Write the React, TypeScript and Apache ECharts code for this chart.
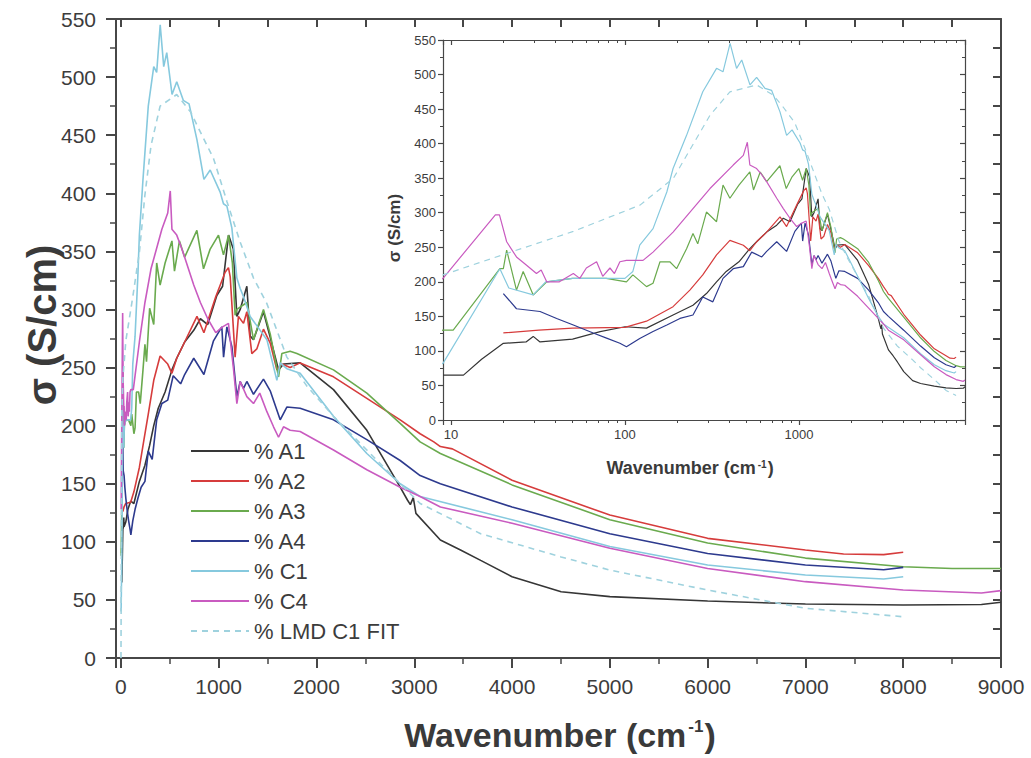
import React, { useEffect, useRef } from 'react';
import * as echarts from 'echarts';

const FONT = '"Liberation Sans", Arial, Helvetica, sans-serif';
const AX = '#474747';
const TXT = '#3c3c3c';

const SERIES_NAMES = ['% A1', '% A2', '% A3', '% A4', '% C1', '% C4', '% LMD C1 FIT'];
const SERIES_COLORS = ['#363636', '#d63c3c', '#6aaa4e', '#2d3a8e', '#86c9de', '#c95bc0', '#9fd2de'];

const MAIN_X_MIN = -50;
const MAIN_X_MAX = 9000;
const Y_MIN = 0;
const Y_MAX = 550;
const Y_STEP = 50;
const INSET_X_MIN = 9;
const INSET_X_MAX = 9000;

// [wavenumber (cm^-1), sigma (S/cm)]
const A1: [number, number][] = [
  [9, 65], [11.8, 65], [15, 88], [20, 111], [27, 113], [29.7, 121], [32.5, 113], [50, 117], [72, 128],
  [100, 135], [133, 133], [189, 152], [246, 166], [294, 183], [336, 200], [382, 215], [452, 229],
  [522, 248], [571, 258], [652, 272], [745, 282], [813, 292], [888, 287], [981, 312], [1040, 320],
  [1101, 364], [1150, 352], [1186, 294], [1220, 300], [1288, 320], [1322, 277], [1356, 274],
  [1458, 298], [1527, 276], [1612, 248], [1663, 253], [1833, 254], [2174, 231], [2515, 196],
  [2856, 147], [2930, 136], [2960, 132], [2990, 138], [3017, 124.5], [3267, 101.5], [3473, 93],
  [3679, 84], [4000, 70], [4502, 57], [5000, 52.8], [6000, 49], [7000, 46.5], [8000, 45.6],
  [8800, 46], [9000, 48],
];

const A2: [number, number][] = [
  [20, 126], [32, 130], [50, 133], [100, 134], [133, 143], [189, 164], [236, 188], [280, 210],
  [336, 239], [401, 260], [479, 253], [522, 245], [571, 258], [652, 272], [778, 294], [849, 280],
  [970, 311], [1066, 332], [1100, 336], [1118, 328], [1168, 259], [1202, 294], [1254, 288],
  [1288, 298], [1339, 262], [1390, 266], [1458, 283], [1527, 271], [1595, 248], [1646, 253],
  [1731, 250], [1833, 254], [2174, 242], [2515, 223.5], [2856, 205], [3060, 193], [3200, 186],
  [3267, 182], [3390, 180], [4000, 153], [5000, 123], [6000, 103], [7000, 93], [7390, 89.5],
  [7800, 89], [8000, 91],
];

const A3: [number, number][] = [
  [2, 88], [9, 130], [10.3, 130], [19.1, 219], [20, 219], [20.9, 246], [23.8, 188], [26, 215],
  [29.7, 181], [35.5, 200], [50, 205], [78, 205], [102, 200], [111, 210], [133, 193], [145, 198],
  [159, 229], [181, 229], [198, 219], [226, 248], [246, 270], [262, 255], [294, 301], [336, 287],
  [366, 340], [401, 321], [452, 340], [522, 359], [548, 333], [599, 359], [652, 345], [777, 368],
  [845, 335], [913, 352], [998, 364], [1049, 347], [1101, 364], [1140, 340], [1168, 295],
  [1186, 300], [1288, 306], [1356, 274], [1458, 300], [1527, 279], [1612, 242], [1646, 262],
  [1731, 264], [1800, 262], [2174, 248], [2515, 228], [2856, 202], [3060, 186], [3267, 176],
  [4000, 149], [5000, 119], [6000, 99], [7000, 86], [8000, 78.6], [8500, 77], [9000, 77],
];

const A4: [number, number][] = [
  [20, 183], [23.8, 161], [32.5, 157], [40.5, 147], [50.5, 137.5], [65.7, 126], [78.4, 118.5],
  [93.5, 111], [102, 106], [121.6, 118], [145, 128], [174, 137.5], [207, 147], [246, 152],
  [280, 178], [320, 171], [366, 205], [419, 219], [479, 222], [535, 243], [611, 236], [652, 244],
  [745, 258], [849, 244], [947, 273], [1032, 285], [1050, 259], [1084, 285], [1135, 268],
  [1186, 225], [1220, 238], [1254, 232], [1288, 238], [1356, 227], [1458, 240], [1527, 230],
  [1629, 205], [1697, 216], [1833, 215], [2174, 205], [2515, 188], [2856, 170], [3060, 157],
  [3267, 150], [4000, 130], [5000, 107], [6000, 90], [7000, 80], [7800, 76], [8000, 78],
];

const C1: [number, number][] = [
  [2, 40], [9, 82], [19.1, 219], [21.5, 191], [29.7, 181], [35, 200], [50, 205], [100, 205],
  [111, 215], [121.6, 253], [145, 277], [174, 330], [189, 364], [226, 412], [280, 475], [336, 509],
  [366, 504], [402, 545], [438, 509], [469, 521], [523, 485], [571, 496], [638, 480], [697, 477],
  [778, 446], [849, 412], [913, 420], [1015, 401], [1049, 391], [1084, 389], [1135, 370],
  [1186, 327], [1220, 318], [1254, 311], [1322, 294], [1493, 274], [1595, 239], [1629, 254],
  [1697, 249], [1833, 245], [2174, 208], [2515, 176], [2856, 150], [3060, 139], [4000, 119],
  [5000, 96], [6000, 80], [7000, 71.4], [7800, 68], [8000, 70],
];

const C4: [number, number][] = [
  [3, 128], [9, 205], [18, 297], [19, 297], [20.9, 258], [23.8, 236], [27.2, 224], [31, 212],
  [33, 217], [35.5, 200], [42, 200], [50.5, 212], [55, 205], [60, 220], [68.7, 229], [74.5, 208],
  [82, 220], [87, 212], [93.5, 229], [102, 231], [127, 231], [145, 243], [189, 272], [246, 306],
  [308, 335], [419, 369], [479, 383], [505, 402], [522, 369], [571, 364], [611, 355], [652, 345],
  [745, 321], [813, 306], [888, 292], [970, 280], [1040, 285], [1100, 288], [1150, 250],
  [1186, 219], [1220, 238], [1288, 225], [1356, 219], [1420, 228], [1493, 212], [1561, 199],
  [1612, 190], [1663, 199], [1731, 196], [1833, 195], [2174, 179], [2515, 162], [2856, 147],
  [3060, 139], [3267, 130], [4000, 116], [5000, 94.4], [6000, 77], [7000, 65.7], [8000, 58.5],
  [8800, 56], [9000, 58],
];

const FIT: [number, number][] = [
  [1, 0], [9, 210], [20.9, 241], [50.5, 273], [122, 311], [190, 350], [245, 398], [308, 441],
  [401, 475], [571, 485], [713, 470], [811, 453], [947, 430], [1084, 393], [1220, 358],
  [1356, 327], [1493, 305], [1697, 259], [1902, 234], [2174, 208], [2515, 179], [2856, 150],
  [3060, 133], [3679, 107], [4502, 87], [5000, 75.7], [6000, 58.5], [7000, 42.8], [8000, 35.5],
];

const SERIES_DATA = [A1, A2, A3, A4, C1, C4, FIT];

const fmt = (v: number) => String(Math.round(v));

function buildOption() {
  const mainGrid = { left: 116, top: 19, width: 885, height: 639 };
  const insetGrid = { left: 443, top: 40, width: 522, height: 380 };

  const lineAx = (w: number) => ({ show: true, onZero: false, lineStyle: { color: AX, width: w } });

  const xAxes = [
    {
      type: 'value', gridIndex: 0, position: 'bottom', min: MAIN_X_MIN, max: MAIN_X_MAX, splitNumber: 9,
      axisLine: lineAx(2),
      axisTick: { show: true, inside: false, length: 10, lineStyle: { color: AX, width: 2 } },
      minorTick: { show: true, splitNumber: 2, length: 6, lineStyle: { color: AX, width: 1.5 } },
      axisLabel: { show: true, showMinLabel: false, showMaxLabel: true, formatter: fmt, fontSize: 21, color: TXT, fontFamily: FONT, margin: 18 },
      splitLine: { show: false },
    },
    {
      type: 'value', gridIndex: 0, position: 'top', min: MAIN_X_MIN, max: MAIN_X_MAX, splitNumber: 9,
      axisLine: lineAx(2),
      axisTick: { show: true, inside: true, length: 8, lineStyle: { color: AX, width: 2 } },
      minorTick: { show: true, splitNumber: 2, length: 8, lineStyle: { color: AX, width: 2 } },
      axisLabel: { show: false },
      splitLine: { show: false },
    },
    {
      type: 'log', gridIndex: 1, position: 'bottom', min: INSET_X_MIN, max: INSET_X_MAX, logBase: 10,
      axisLine: lineAx(1.2),
      axisTick: { show: true, inside: false, length: 5, lineStyle: { color: AX, width: 1.2 } },
      minorTick: { show: true, splitNumber: 9, length: 3, lineStyle: { color: AX, width: 1 } },
      axisLabel: { show: true, showMinLabel: false, showMaxLabel: false, formatter: fmt, fontSize: 13, color: TXT, fontFamily: FONT, margin: 8 },
      splitLine: { show: false },
    },
    {
      type: 'log', gridIndex: 1, position: 'top', min: INSET_X_MIN, max: INSET_X_MAX, logBase: 10,
      axisLine: lineAx(1.2),
      axisTick: { show: true, inside: true, length: 5, lineStyle: { color: AX, width: 1.2 } },
      minorTick: { show: true, splitNumber: 9, length: 3, lineStyle: { color: AX, width: 1 } },
      axisLabel: { show: false },
      splitLine: { show: false },
    },
  ];

  const yAxes = [
    {
      type: 'value', gridIndex: 0, position: 'left', min: Y_MIN, max: Y_MAX, interval: Y_STEP,
      axisLine: lineAx(2),
      axisTick: { show: true, inside: false, length: 10, lineStyle: { color: AX, width: 2 } },
      minorTick: { show: true, splitNumber: 2, length: 6, lineStyle: { color: AX, width: 1.5 } },
      axisLabel: { show: true, formatter: fmt, fontSize: 21, color: TXT, fontFamily: FONT, margin: 20 },
      splitLine: { show: false },
    },
    {
      type: 'value', gridIndex: 0, position: 'right', min: Y_MIN, max: Y_MAX, interval: Y_STEP,
      axisLine: lineAx(2),
      axisTick: { show: true, inside: true, length: 8, lineStyle: { color: AX, width: 2 } },
      minorTick: { show: true, splitNumber: 2, length: 8, lineStyle: { color: AX, width: 2 } },
      axisLabel: { show: false },
      splitLine: { show: false },
    },
    {
      type: 'value', gridIndex: 1, position: 'left', min: Y_MIN, max: Y_MAX, interval: Y_STEP,
      axisLine: lineAx(1.2),
      axisTick: { show: true, inside: false, length: 5, lineStyle: { color: AX, width: 1.2 } },
      minorTick: { show: true, splitNumber: 2, length: 3, lineStyle: { color: AX, width: 1 } },
      axisLabel: { show: true, formatter: fmt, fontSize: 13, color: TXT, fontFamily: FONT, margin: 7 },
      splitLine: { show: false },
    },
    {
      type: 'value', gridIndex: 1, position: 'right', min: Y_MIN, max: Y_MAX, interval: Y_STEP,
      axisLine: lineAx(1.2),
      axisTick: { show: true, inside: true, length: 5, lineStyle: { color: AX, width: 1.2 } },
      minorTick: { show: true, splitNumber: 2, length: 3, lineStyle: { color: AX, width: 1 } },
      axisLabel: { show: false },
      splitLine: { show: false },
    },
  ];

  const mkSeries = (inset: boolean) =>
    SERIES_NAMES.map((name, i) => ({
      type: 'line',
      name,
      data: SERIES_DATA[i],
      xAxisIndex: inset ? 2 : 0,
      yAxisIndex: inset ? 2 : 0,
      symbol: 'none',
      showSymbol: false,
      clip: true,
      z: inset ? 4 : 2,
      lineStyle: {
        color: SERIES_COLORS[i],
        width: inset ? 1.2 : 1.6,
        type: i === 6 ? [6, 5] : 'solid',
      },
      itemStyle: { color: SERIES_COLORS[i] },
      emphasis: { disabled: true },
    }));

  const titleStyle = (size: number, supSize: number) => ({
    text: '{a|Wavenumber (cm}{b|-1}{a|)}',
    fill: '#3a3a3a',
    align: 'center',
    verticalAlign: 'middle',
    rich: {
      a: { fontSize: size, fontWeight: 'bold', fontFamily: FONT, fill: '#3a3a3a' },
      b: { fontSize: supSize, fontWeight: 'bold', fontFamily: FONT, fill: '#3a3a3a', verticalAlign: 'top', padding: [0, 1, 0, 2] },
    },
  });

  return {
    animation: false,
    backgroundColor: '#ffffff',
    grid: [
      { ...mainGrid, show: false, containLabel: false },
      { ...insetGrid, show: false, containLabel: false },
    ],
    xAxis: xAxes,
    yAxis: yAxes,
    legend: {
      data: SERIES_NAMES,
      orient: 'vertical',
      left: 185,
      top: 435,
      itemWidth: 58,
      itemHeight: 12,
      itemGap: 8,
      selectedMode: false,
      itemStyle: { opacity: 0, borderWidth: 0 },
      textStyle: { fontSize: 22, color: TXT, fontFamily: FONT },
    },
    series: [...mkSeries(false), ...mkSeries(true)],
    graphic: [
      { type: 'text', x: 560, y: 735, style: titleStyle(34, 17) },
      {
        type: 'text', x: 42, y: 325, rotation: Math.PI / 2,
        style: { text: 'σ (S/cm)', fill: '#3a3a3a', font: `bold 40px ${FONT}`, align: 'center', verticalAlign: 'middle' },
      },
      { type: 'text', x: 690, y: 468, style: titleStyle(18, 10) },
      {
        type: 'text', x: 394, y: 228, rotation: Math.PI / 2,
        style: { text: 'σ (S/cm)', fill: '#3a3a3a', font: `bold 17px ${FONT}`, align: 'center', verticalAlign: 'middle' },
      },
    ],
  };
}

export default function App() {
  const ref = useRef<HTMLDivElement>(null);
  useEffect(() => {
    if (!ref.current) return;
    const chart = echarts.init(ref.current, null, { renderer: 'svg' });
    chart.setOption(buildOption() as any);
    return () => chart.dispose();
  }, []);
  return (
    <div
      ref={ref}
      style={{ position: 'fixed', left: 0, top: 0, width: 1031, height: 758, background: '#fff' }}
    />
  );
}
